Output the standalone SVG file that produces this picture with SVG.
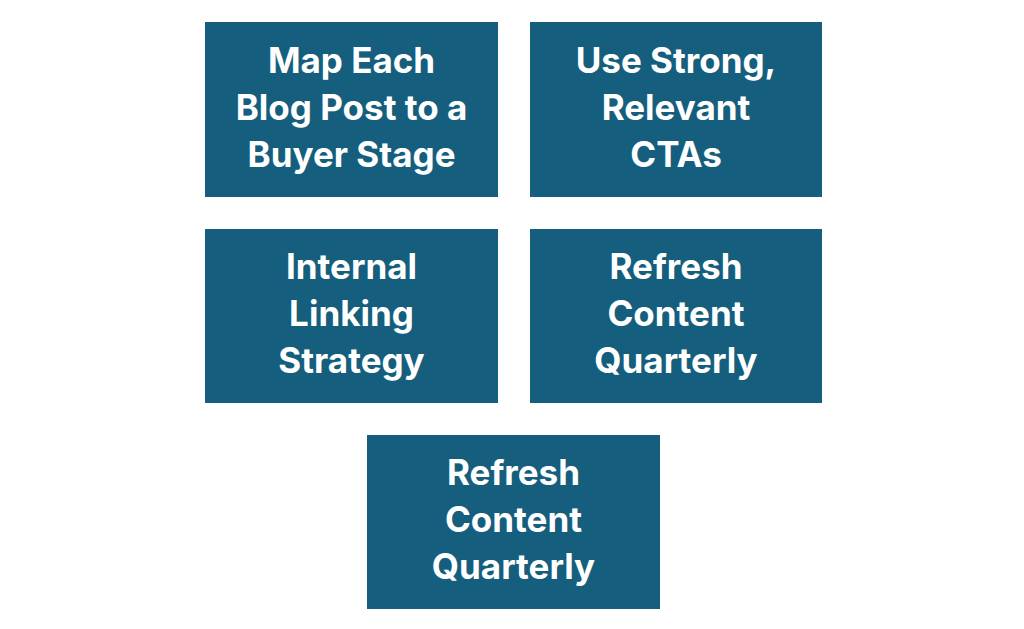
<svg xmlns="http://www.w3.org/2000/svg" width="1024" height="629" viewBox="0 0 1024 629">
<style>
.b{fill:#155e7d}
.t{fill:#fff;font-family:Inter,"Open Sans",sans-serif;font-weight:700;font-size:35px;text-anchor:middle}
</style>
<rect width="1024" height="629" fill="#fff"/>
<g id="n1"><rect class="b" x="205" y="22" width="293" height="175"/>
<text class="t" x="351.5" y="73">Map Each</text><text class="t" x="351.5" y="120">Blog Post to a</text><text class="t" x="351.5" y="167">Buyer Stage</text></g>
<g id="n2"><rect class="b" x="530" y="22" width="292" height="175"/>
<text class="t" x="676" y="73">Use Strong,</text><text class="t" x="676" y="120">Relevant</text><text class="t" x="676" y="167">CTAs</text></g>
<g id="n3"><rect class="b" x="205" y="229" width="293" height="174"/>
<text class="t" x="351.5" y="279">Internal</text><text class="t" x="351.5" y="326">Linking</text><text class="t" x="351.5" y="373">Strategy</text></g>
<g id="n4"><rect class="b" x="530" y="229" width="292" height="174"/>
<text class="t" x="676" y="279">Refresh</text><text class="t" x="676" y="326">Content</text><text class="t" x="676" y="373">Quarterly</text></g>
<g id="n5"><rect class="b" x="367" y="435" width="293" height="174"/>
<text class="t" x="513.5" y="485">Refresh</text><text class="t" x="513.5" y="532">Content</text><text class="t" x="513.5" y="579">Quarterly</text></g>
<g id="connectors"/>
</svg>
